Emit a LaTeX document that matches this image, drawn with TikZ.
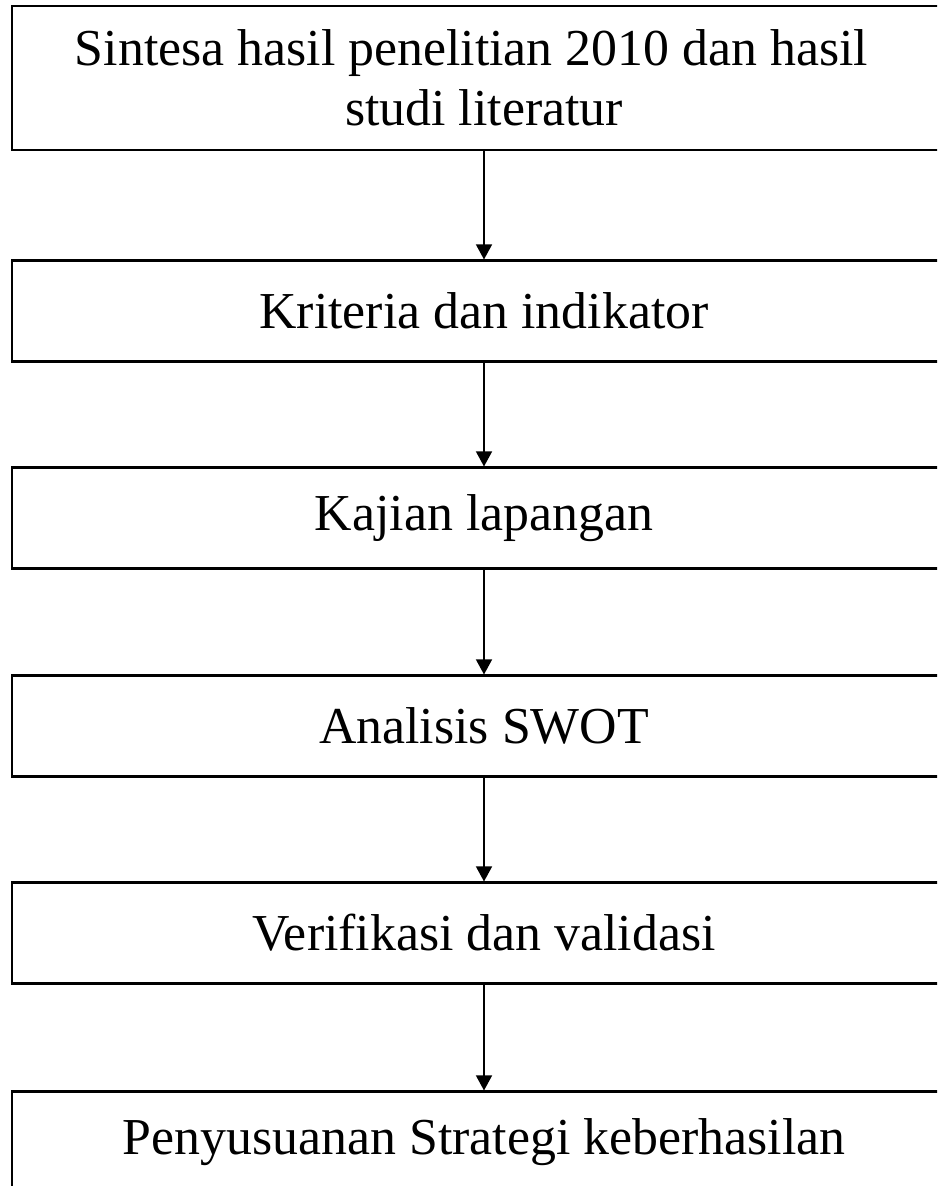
\documentclass[tikz,border=0pt]{standalone}
\usepackage{fontspec}
\setmainfont{Liberation Serif}
\usetikzlibrary{arrows.meta,positioning}

\begin{document}
\begin{tikzpicture}[x=0.02cm, y=-0.02cm,
  stage/.style={draw, line width=1.2pt, font=\fontsize{29.5}{34}\selectfont,
    minimum width=18.88cm, minimum height=2.02cm, align=center, inner sep=0pt},
  arr/.style={-{Triangle[length=3mm, width=3.2mm]}, line width=0.8pt}]
\useasboundingbox (0,0) rectangle (937,1186);
\clip (0,0) rectangle (937,1186);
% Top: synthesis
\node[stage, minimum height=2.88cm] (sintesa) at (484,78) {Sintesa hasil penelitian 2010 dan hasil\kern0.5cm\\studi literatur};
\node[stage] (kriteria) at (484,311) {Kriteria dan indikator};
\node[stage] (kajian) at (484,518) {Kajian lapangan};
\node[stage] (swot) at (484,726) {Analisis SWOT};
\node[stage] (verif) at (484,933) {Verifikasi dan validasi};
% Bottom: strategy
\node[stage] (strategi) at (484,1142) {Penyusuanan Strategi keberhasilan};
% Arrows
\draw[arr] (sintesa) -- (kriteria);
\draw[arr] (kriteria) -- (kajian);
\draw[arr] (kajian) -- (swot);
\draw[arr] (swot) -- (verif);
\draw[arr] (verif) -- (strategi);
\end{tikzpicture}
\end{document}
